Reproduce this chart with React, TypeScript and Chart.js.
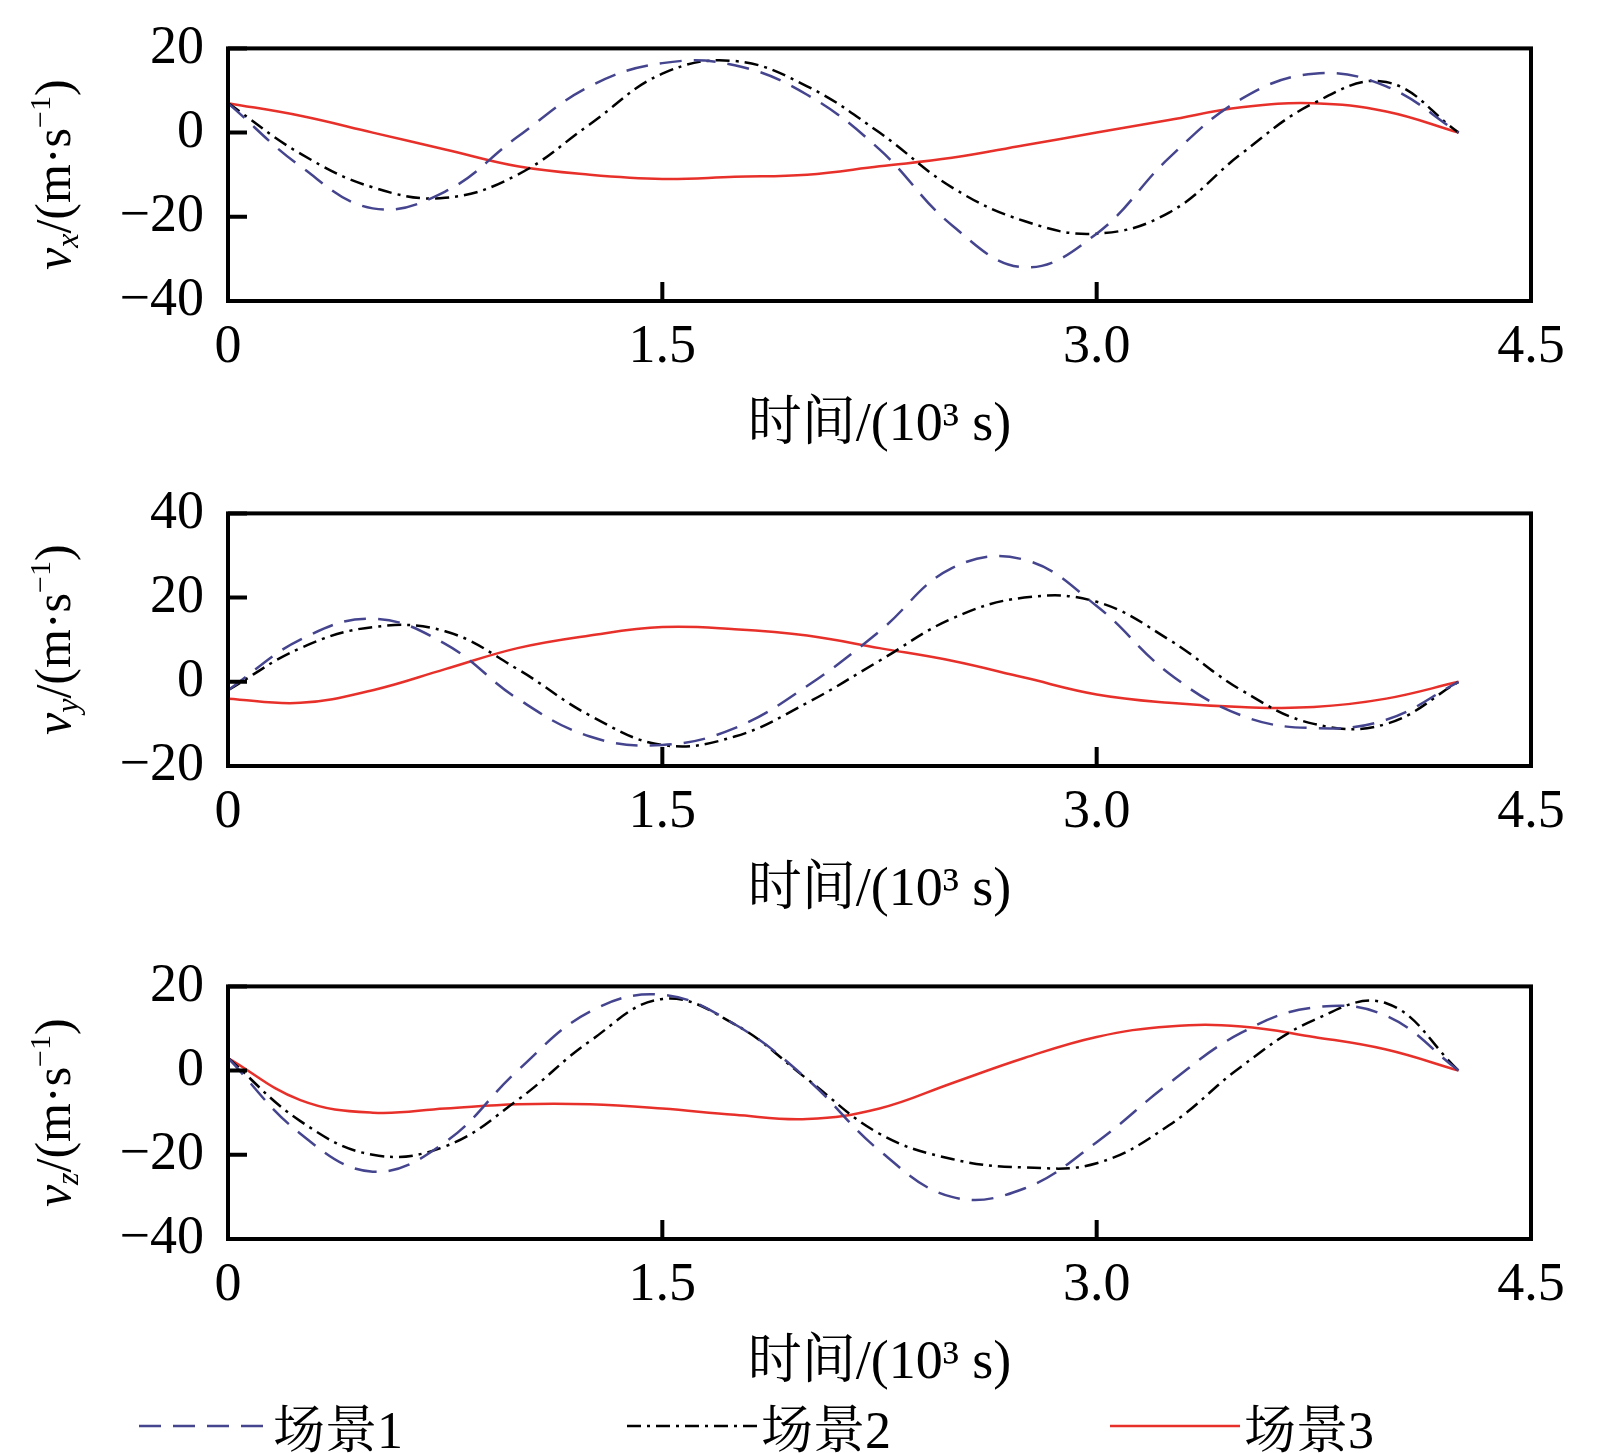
import React, { useEffect, useRef } from "react";
import { Chart, registerables } from "chart.js";
Chart.register(...registerables);

const times = [0, 0.25, 0.5, 0.75, 1.0, 1.25, 1.5, 1.75, 2.0, 2.25, 2.5, 2.75, 3.0, 3.25, 3.5, 3.75, 4.0, 4.25];
const xTicks = [0, 1.5, 3.0, 4.5];
const seriesNames = ["场景1", "场景2", "场景3"];

const vx1 = [7, -8, -18, -14, -1, 11, 16.5, 16, 9, -4, -22, -32, -24, -6, 8, 14, 11, 0];
const vx2 = [7, -5, -13, -15.5, -10, 2, 14, 17, 11, 0, -13, -21, -24, -19, -5, 7, 12, 0];
const vx3 = [7, 4, 0, -4, -8, -10, -11, -10.5, -10, -8, -6, -3, 0, 3, 6, 7, 5, 0];

const vy1 = [-2, 10, 15, 9, -4, -13, -15, -11, -1, 12, 27, 29, 18, 2, -8, -11, -9, 0];
const vy2 = [-2, 8, 13, 12, 3, -8, -15, -13, -5, 5, 15, 20, 19, 10, -2, -10, -10, 0];
const vy3 = [-4, -5, -2, 3, 8, 11, 13, 12.5, 11, 8, 5, 1, -3, -5, -6, -6, -4, 0];

const vz1 = [3, -15, -24, -17, 0, 14, 18, 11, -2, -19, -30, -28, -17, -3, 9, 15, 13, 0];
const vz2 = [3, -12, -20, -18, -7, 7, 17, 11, -2, -15, -21, -23, -22, -13, 1, 12, 16, 0];
const vz3 = [3, -7, -10, -9, -8, -8, -9, -10.5, -11.5, -9, -3, 3, 8, 10.5, 10.5, 8, 5, 0];

const COLORS = ["#45458f", "#000000", "#e8302a"];
const DASHES: number[][] = [[22, 12], [14, 6, 3, 6], []];
const FONT = "'Liberation Serif', 'Noto Serif CJK SC', 'Noto Sans CJK SC', serif";

type Panel = { sub: string; data: number[][]; min: number; max: number; ticks: number[] };
const panels: Panel[] = [
  { sub: "x", data: [vx1, vx2, vx3], min: -40, max: 20, ticks: [-40, -20, 0, 20] },
  { sub: "y", data: [vy1, vy2, vy3], min: -20, max: 40, ticks: [-20, 0, 20, 40] },
  { sub: "z", data: [vz1, vz2, vz3], min: -40, max: 20, ticks: [-40, -20, 0, 20] },
];

function PanelChart({ p }: { p: Panel }) {
  const ref = useRef<HTMLCanvasElement>(null);
  useEffect(() => {
    const deco = {
      id: "deco",
      afterDraw(c: any) {
        const ctx = c.ctx;
        const a = c.chartArea;
        const xs = c.scales.x, ys = c.scales.y;
        ctx.save();
        ctx.strokeStyle = "#000";
        ctx.lineWidth = 4;
        ctx.strokeRect(a.left, a.top, a.right - a.left, a.bottom - a.top);
        ctx.beginPath();
        for (const t of xTicks) {
          const px = xs.getPixelForValue(t);
          ctx.moveTo(px, a.bottom); ctx.lineTo(px, a.bottom - 19);
        }
        for (const t of p.ticks) {
          const py = ys.getPixelForValue(t);
          ctx.moveTo(a.left, py); ctx.lineTo(a.left + 19, py);
        }
        ctx.stroke();
        ctx.translate(57, (a.top + a.bottom) / 2);
        ctx.rotate(-Math.PI / 2);
        ctx.fillStyle = "#000";
        ctx.textBaseline = "middle";
        const parts: [string, string, number][] = [
          ["v", `italic 50px ${FONT}`, 0],
          [p.sub, `italic 32px ${FONT}`, 13],
          ["/(m·s", `50px ${FONT}`, 0],
          ["−1", `30px ${FONT}`, -15],
          [")", `50px ${FONT}`, 0],
        ];
        let w = 0;
        for (const [t, f] of parts) { ctx.font = f; w += ctx.measureText(t).width; }
        let x = -w / 2;
        for (const [t, f, dy] of parts) {
          ctx.font = f; ctx.fillText(t, x, dy); x += ctx.measureText(t).width;
        }
        ctx.restore();
      },
    };
    const chart = new Chart(ref.current!, {
      type: "line",
      data: {
        datasets: p.data.map((d, i) => ({
          label: seriesNames[i],
          data: d.map((v, j) => ({ x: times[j], y: v })),
          borderColor: COLORS[i],
          borderDash: DASHES[i],
          borderWidth: 2.5,
          pointRadius: 0,
          tension: 0.4,
          fill: false,
        })),
      },
      options: {
        animation: false,
        responsive: false,
        layout: { padding: { top: 31, right: 78, left: 0, bottom: 0 } },
        plugins: { legend: { display: false }, tooltip: { enabled: false } },
        scales: {
          x: {
            type: "linear", min: 0, max: 4.5,
            afterBuildTicks: (s: any) => { s.ticks = xTicks.map((v) => ({ value: v })); },
            afterFit: (s: any) => { s.height = 161; },
            grid: { display: false }, border: { display: false },
            ticks: {
              color: "#000", font: { family: FONT, size: 54 }, padding: 6, maxRotation: 0,
              callback: (v: any) => (v === 0 ? "0" : Number(v).toFixed(1)),
            },
            title: {
              display: true, text: "时间/(10³ s)", color: "#000",
              font: { family: FONT, size: 54 }, padding: { top: 0 },
            },
          },
          y: {
            min: p.min, max: p.max,
            afterBuildTicks: (s: any) => { s.ticks = p.ticks.map((v) => ({ value: v })); },
            afterFit: (s: any) => { s.width = 228; },
            grid: { display: false }, border: { display: false },
            ticks: {
              color: "#000", font: { family: FONT, size: 54 }, padding: 16,
              callback: (v: any) => (Number(v) < 0 ? "−" + Math.abs(v) : String(v)),
            },
          },
        },
      },
      plugins: [deco],
    } as any);
    return () => chart.destroy();
  }, []);
  return <canvas ref={ref} width={1609} height={462} style={{ display: "block" }} />;
}

function LegendItem({ i, left }: { i: number; left: number }) {
  return (
    <div style={{ position: "absolute", left, top: 0, display: "flex", alignItems: "center" }}>
      <svg width={130} height={20}>
        <line x1={0} y1={10} x2={130} y2={10} stroke={COLORS[i]} strokeWidth={2.5}
          strokeDasharray={DASHES[i].length ? DASHES[i].join(" ") : undefined} />
      </svg>
      <span style={{ fontFamily: FONT, fontSize: 52, marginLeft: 4 }}>{seriesNames[i]}</span>
    </div>
  );
}

export default function App() {
  return (
    <div style={{ position: "absolute", left: 0, top: 0, width: 1609, height: 1453, background: "#fff" }}>
      <div style={{ position: "absolute", top: 0 }}><PanelChart p={panels[0]} /></div>
      <div style={{ position: "absolute", top: 465 }}><PanelChart p={panels[1]} /></div>
      <div style={{ position: "absolute", top: 938 }}><PanelChart p={panels[2]} /></div>
      <div style={{ position: "absolute", top: 1388, left: 0, width: 1609, height: 64 }}>
        <LegendItem i={0} left={139} />
        <LegendItem i={1} left={627} />
        <LegendItem i={2} left={1110} />
      </div>
    </div>
  );
}
